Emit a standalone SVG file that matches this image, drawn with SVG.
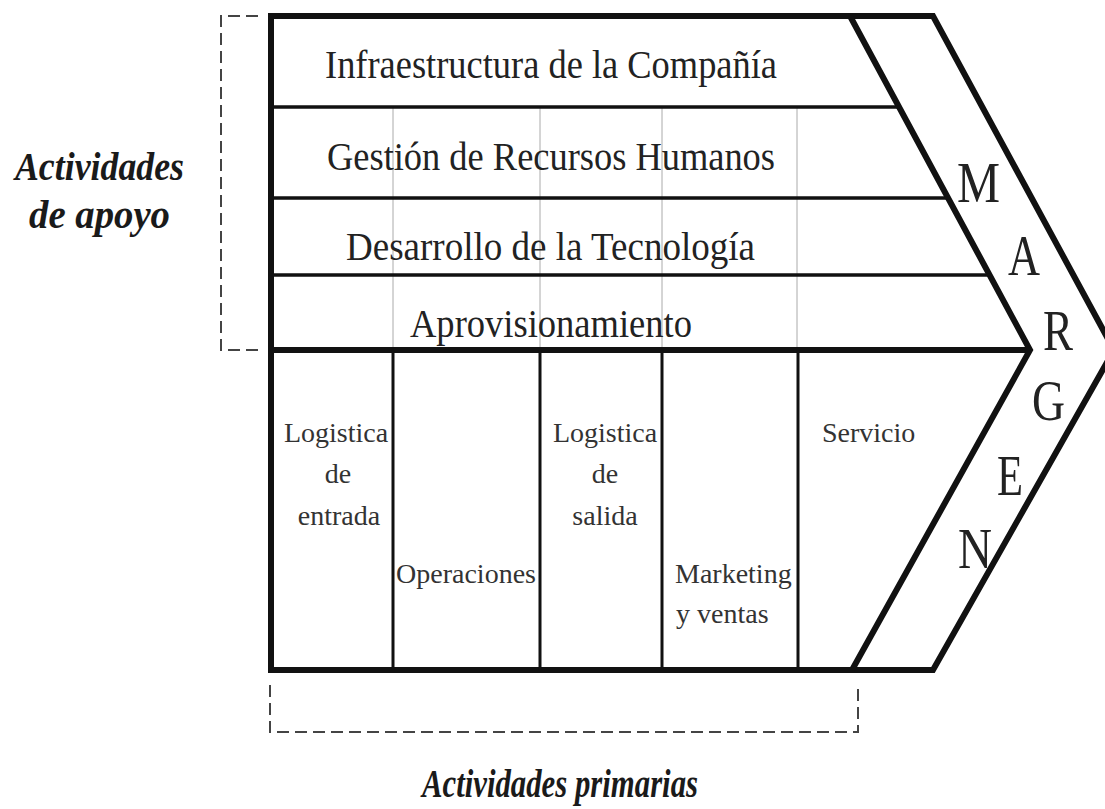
<svg xmlns="http://www.w3.org/2000/svg" width="1105" height="809" viewBox="0 0 1105 809">
<style>
.thick{fill:none;stroke:#111;stroke-width:6;stroke-linejoin:miter}
.row{stroke:#111;stroke-width:3.5}
.div{stroke:#111;stroke-width:3}
.faint{stroke:#aaa;stroke-width:1}
.dash{fill:none;stroke:#444;stroke-width:2;stroke-dasharray:12 6}
.sup{font-family:"Liberation Serif","Times New Roman",serif;font-size:40px;fill:#222}
.pri{font-family:"Liberation Serif","Times New Roman",serif;font-size:28px;fill:#333}
.lbl{font-family:"Liberation Serif","Times New Roman",serif;font-size:39px;font-weight:bold;font-style:italic;fill:#1a1a1a}
.mg{font-family:"Liberation Serif","Times New Roman",serif;font-size:58px;fill:#222}
</style>
<rect width="1105" height="809" fill="#fff"/>
<g id="frame">
<line class="faint" x1="393" y1="108" x2="393" y2="350"/>
<line class="faint" x1="540" y1="108" x2="540" y2="350"/>
<line class="faint" x1="662" y1="108" x2="662" y2="350"/>
<line class="faint" x1="797" y1="108" x2="797" y2="350"/>
<path class="thick" d="M271,16 L933,16 L1114,350 L933,670 L271,670 Z"/>
<path class="thick" d="M850,16 L1030,350 L852,670"/>
<line class="thick" x1="271" y1="350" x2="1030" y2="350"/>
</g>
<g id="connectors">
<line class="row" x1="271" y1="107" x2="899" y2="107"/>
<line class="row" x1="271" y1="198" x2="948" y2="198"/>
<line class="row" x1="271" y1="275" x2="990" y2="275"/>
<line class="div" x1="393" y1="350" x2="393" y2="670"/>
<line class="div" x1="540" y1="350" x2="540" y2="670"/>
<line class="div" x1="662" y1="350" x2="662" y2="670"/>
<line class="div" x1="798" y1="350" x2="798" y2="670"/>
<polyline class="dash" points="258,16 221,16 221,350 258,350"/>
<polyline class="dash" points="270,685 270,732 858,732 858,687"/>
</g>
<g id="infraestructura"><text class="sup" x="325" y="78" textLength="452" lengthAdjust="spacingAndGlyphs">Infraestructura de la Compañía</text></g>
<g id="rrhh"><text class="sup" x="327" y="170" textLength="448" lengthAdjust="spacingAndGlyphs">Gestión de Recursos Humanos</text></g>
<g id="tecnologia"><text class="sup" x="346" y="260" textLength="409" lengthAdjust="spacingAndGlyphs">Desarrollo de la Tecnología</text></g>
<g id="aprovisionamiento"><text class="sup" x="410" y="337" textLength="282" lengthAdjust="spacingAndGlyphs">Aprovisionamiento</text></g>
<g id="log-entrada" text-anchor="middle">
<text class="pri" x="336" y="442">Logistica</text>
<text class="pri" x="338" y="483">de</text>
<text class="pri" x="339" y="525">entrada</text>
</g>
<g id="operaciones"><text class="pri" x="466" y="583" text-anchor="middle">Operaciones</text></g>
<g id="log-salida" text-anchor="middle">
<text class="pri" x="605" y="442">Logistica</text>
<text class="pri" x="605" y="483">de</text>
<text class="pri" x="605" y="525">salida</text>
</g>
<g id="marketing">
<text class="pri" x="675" y="583">Marketing</text>
<text class="pri" x="676" y="623">y ventas</text>
</g>
<g id="servicio"><text class="pri" x="822" y="442">Servicio</text></g>
<g id="margen">
<text class="mg" x="957" y="202" textLength="43" lengthAdjust="spacingAndGlyphs">M</text>
<text class="mg" x="1008" y="275" textLength="32" lengthAdjust="spacingAndGlyphs">A</text>
<text class="mg" x="1043" y="350" textLength="30" lengthAdjust="spacingAndGlyphs">R</text>
<text class="mg" x="1032" y="420" textLength="33" lengthAdjust="spacingAndGlyphs">G</text>
<text class="mg" x="997" y="495" textLength="26" lengthAdjust="spacingAndGlyphs">E</text>
<text class="mg" x="958" y="568" textLength="34" lengthAdjust="spacingAndGlyphs">N</text>
</g>
<g id="apoyo">
<text class="lbl" x="15" y="180" textLength="169" lengthAdjust="spacingAndGlyphs">Actividades</text>
<text class="lbl" x="29" y="228" textLength="141" lengthAdjust="spacingAndGlyphs">de apoyo</text>
</g>
<g id="primarias"><text class="lbl" x="422" y="797" textLength="276" lengthAdjust="spacingAndGlyphs">Actividades primarias</text></g>
</svg>
